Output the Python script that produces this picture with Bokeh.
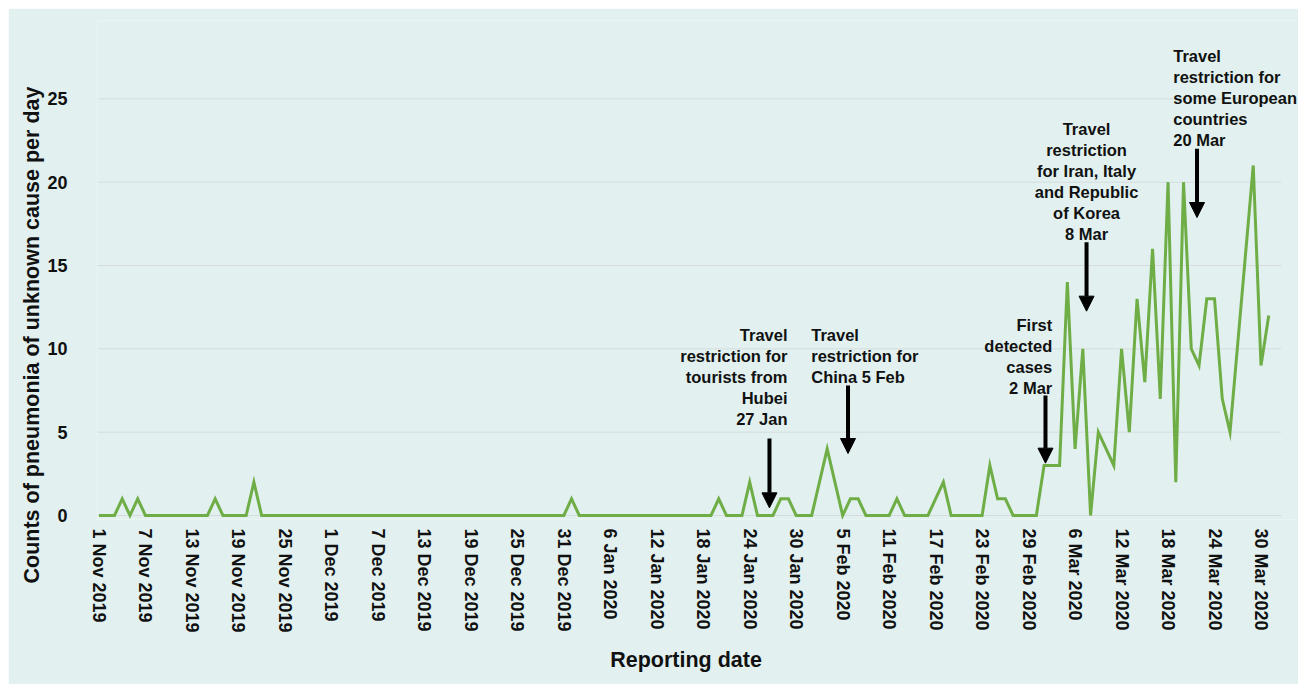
import pandas as pd
from bokeh.plotting import figure
from bokeh.models import (ColumnDataSource, Range1d, FixedTicker, Label, Arrow,
                          NormalHead, Title)
from bokeh.embed import file_html
from bokeh.resources import INLINE

# ---------------- data (daily counts, None = no report that day) ----------------
start_date = "2019-11-01"
end_date = "2020-03-31"
nov_counts = [0, 0, 0, 1, 0, 1, 0, 0, 0, 0,
              0, 0, 0, 0, 0, 1, 0, 0, 0, 0,
              2, 0, 0, 0, 0, 0, 0, 0, 0, 0]
dec_counts = [0, 0, 0, 0, 0, 0, 0, 0, 0, 0,
              0, 0, 0, 0, 0, 0, 0, 0, 0, 0,
              0, 0, 0, 0, 0, 0, 0, 0, 0, 0, 0]
jan_counts = [1, 0, 0, 0, 0, 0, 0, 0, 0, 0,
              0, 0, 0, 0, 0, 0, 0, 0, 0, 1,
              0, 0, 0, 2, 0, 0, 0, 1, 1, 0, 0]
feb_counts = [0, None, 4, None, 0, 1, 1, 0, 0, 0,
              0, 1, 0, 0, 0, 0, None, 2, 0, 0,
              0, 0, 0, 3, 1, 1, 0, 0, 0]
mar_counts = [0, 3, 3, 3, 14, 4, 10, 0, 5, None,
              3, 10, 5, 13, 8, 16, 7, 20, 2, 20,
              10, 9, 13, 13, 7, 5, None, None, 21, 9, 12]

tick_dates = ["2019-11-01", "2019-11-07", "2019-11-13", "2019-11-19", "2019-11-25",
              "2019-12-01", "2019-12-07", "2019-12-13", "2019-12-19", "2019-12-25",
              "2019-12-31", "2020-01-06", "2020-01-12", "2020-01-18", "2020-01-24",
              "2020-01-30", "2020-02-05", "2020-02-11", "2020-02-17", "2020-02-23",
              "2020-02-29", "2020-03-06", "2020-03-12", "2020-03-18", "2020-03-24",
              "2020-03-30"]
tick_labels = ["1 Nov 2019", "7 Nov 2019", "13 Nov 2019", "19 Nov 2019", "25 Nov 2019",
               "1 Dec 2019", "7 Dec 2019", "13 Dec 2019", "19 Dec 2019", "25 Dec 2019",
               "31 Dec 2019", "6 Jan 2020", "12 Jan 2020", "18 Jan 2020", "24 Jan 2020",
               "30 Jan 2020", "5 Feb 2020", "11 Feb 2020", "17 Feb 2020", "23 Feb 2020",
               "29 Feb 2020", "6 Mar 2020", "12 Mar 2020", "18 Mar 2020", "24 Mar 2020",
               "30 Mar 2020"]
y_ticks = [0, 5, 10, 15, 20, 25]

x_title = "Reporting date"
y_title = "Counts of pneumonia of unknown cause per day"

annotations = [
    "Travel\nrestriction for\ntourists from\nHubei\n27 Jan",
    "Travel\nrestriction for\nChina 5 Feb",
    "First\ndetected\ncases\n2 Mar",
    "Travel\nrestriction\nfor Iran, Italy\nand Republic\nof Korea\n8 Mar",
    "Travel\nrestriction for\nsome European\ncountries\n20 Mar",
]

# ---------------- build source ----------------
all_days = pd.date_range(start_date, end_date, freq="D")
all_counts = nov_counts + dec_counts + jan_counts + feb_counts + mar_counts
df = pd.DataFrame({"date": all_days, "count": all_counts}).dropna()
source = ColumnDataSource(df)

base = pd.Timestamp(start_date)


def ms(day_offset):
    return (base + pd.Timedelta(days=day_offset)).value / 1e6


BG = "#e2f1f0"
GREEN = "#6fad46"
TXT = "#111111"
FONT = "Liberation Sans"

p = figure(width=1290, height=676, x_axis_type="datetime",
           x_range=Range1d(ms(-0.19), ms(154.84)), y_range=Range1d(-0.24, 29.7),
           output_backend="svg", toolbar_location=None,
           min_border_left=89, min_border_right=0, min_border_top=12,
           min_border_bottom=165)
p.margin = (8, 0, 0, 8)
p.background_fill_color = BG
p.border_fill_color = BG
p.outline_line_color = None

# horizontal grid lines (ending before the right edge, as in the original)
p.xgrid.grid_line_color = None
p.ygrid.grid_line_color = None
p.segment(x0=[ms(-0.19)] * len(y_ticks), x1=[ms(152.6)] * len(y_ticks),
          y0=y_ticks, y1=y_ticks, line_color="#d6dcdc", line_width=1,
          level="underlay")

p.line("date", "count", source=source, line_color=GREEN, line_width=3,
       line_join="miter")

# axes
tick_ms = [int(pd.Timestamp(d).value // 10**6) for d in tick_dates]
p.xaxis.ticker = FixedTicker(ticks=tick_ms)
p.xaxis.major_label_overrides = {t: l for t, l in zip(tick_ms, tick_labels)}
p.xaxis.major_label_orientation = "vertical"
p.yaxis.ticker = FixedTicker(ticks=y_ticks)
for ax in (p.xaxis, p.yaxis):
    ax.axis_line_color = None
    ax.major_tick_line_color = None
    ax.minor_tick_line_color = None
    ax.major_label_text_font = FONT
    ax.major_label_text_font_style = "bold"
    ax.major_label_text_font_size = "18px"
    ax.major_label_text_color = TXT
    ax.axis_label_text_font = FONT
    ax.axis_label_text_font_style = "bold"
    ax.axis_label_text_font_size = "21.5px"
    ax.axis_label_text_color = TXT
p.xaxis.major_label_standoff = 3
p.yaxis.major_label_standoff = 24
# trailing no-break spaces shift the centred title slightly left, as in the original
p.xaxis.axis_label = x_title + "\u00a0" * 4
p.xaxis.axis_label_standoff = 12

# y title: starts below the frame bottom, as in the original
p.add_layout(Title(text=y_title, align="left", offset=-64, vertical_align="middle",
                   standoff=0, text_font=FONT, text_font_style="bold",
                   text_font_size="21.5px", text_color=TXT), "left")

# annotations: (x day offset, y top, align)
ann_pos = [(88.88, 11.37, "right"), (91.94, 11.37, "left"), (123.05, 11.97, "right"),
           (127.48, 23.73, "center"), (138.67, 28.12, "left")]
for txt, (dx, ty, al) in zip(annotations, ann_pos):
    p.add_layout(Label(x=ms(dx), y=ty, text=txt, text_align=al, text_baseline="top",
                       text_font=FONT, text_font_style="bold",
                       text_font_size="16.5px", text_line_height=1.17,
                       text_color=TXT))

arrows = [(86.55, 4.62, 0.46), (96.69, 7.8, 3.72), (122.18, 7.2, 3.14),
          (127.48, 16.4, 12.26), (141.74, 22.0, 17.88)]
for dx, y0, y1 in arrows:
    p.add_layout(Arrow(end=NormalHead(size=15, fill_color="black", line_color="black",
                                      line_width=1),
                       x_start=ms(dx), y_start=y0, x_end=ms(dx), y_end=y1,
                       line_color="black", line_width=4))

open("out.html", "w").write(file_html(p, INLINE))
